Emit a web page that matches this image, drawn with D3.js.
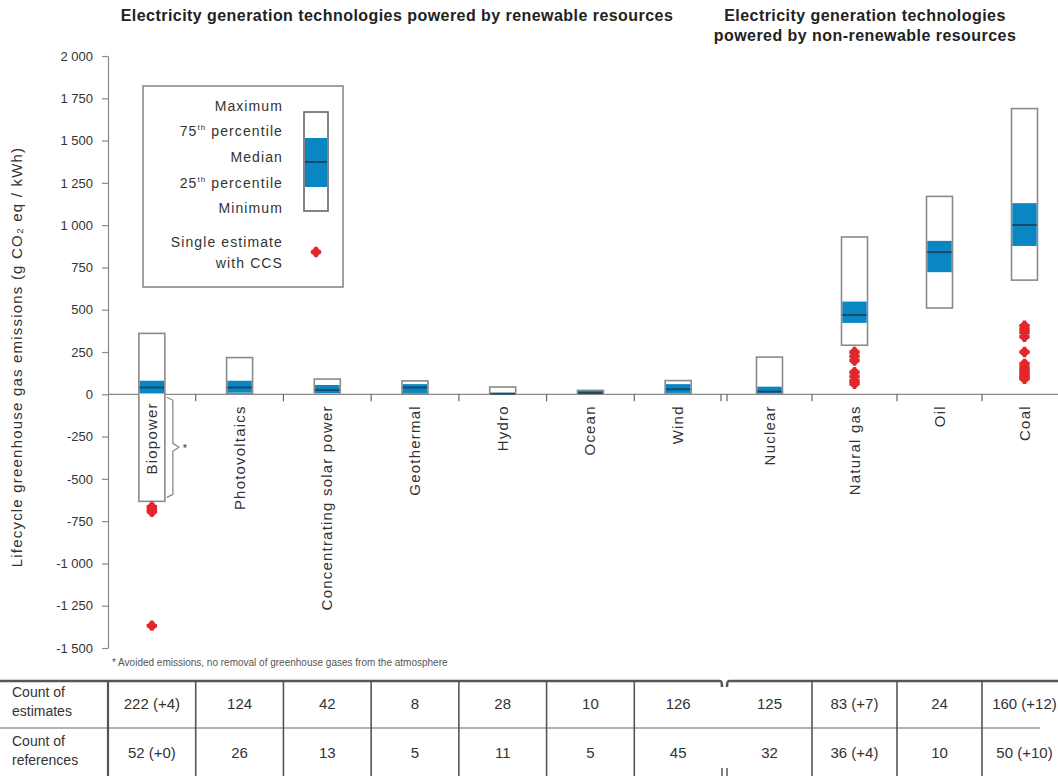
<!DOCTYPE html>
<html>
<head>
<meta charset="utf-8">
<script src="https://cdn.jsdelivr.net/npm/d3@7"></script>
<style>
  html, body { margin: 0; padding: 0; background: #fff; }
  svg { display: block; font-family: "Liberation Sans", Arial, sans-serif; }
</style>
</head>
<body>
<svg id="chart" width="1058" height="776"></svg>
<script>
// ---------------- DATA ----------------
const renewables = ["Biopower", "Photovoltaics", "Concentrating solar power", "Geothermal", "Hydro", "Ocean", "Wind"];
const nonRenewables = ["Nuclear", "Natural gas", "Oil", "Coal"];
const categories = renewables.concat(nonRenewables);

const minValues    = [-633,   5,   9,   6,  0,  2,  2,   1,  290,  510,  675];
const q1Values     = [   5,  10,   8,   8,  2,  6,  8,   6,  422,  722,  877];
const medianValues = [  40,  40,  25,  40,  4,  8, 30,  16,  469,  840, 1001];
const q3Values     = [  80,  80,  55,  60,  7, 20, 60,  45,  548,  907, 1130];
const maxValues    = [ 360, 217,  90,  79, 43, 23, 81, 220,  930, 1170, 1689];

const ccsBiopower  = [-665, -680, -695, -1368];
const ccsNaturalGas = [250, 225, 200, 130, 105, 80, 62];
const ccsCoal      = [405, 385, 365, 340, 250, 180, 160, 145, 130, 115, 100, 92];

const estimateCounts  = ["222 (+4)", "124", "42", "8", "28", "10", "126", "125", "83 (+7)", "24", "160 (+12)"];
const referenceCounts = ["52 (+0)", "26", "13", "5", "11", "5", "45", "32", "36 (+4)", "10", "50 (+10)"];

const yTicks = [2000, 1750, 1500, 1250, 1000, 750, 500, 250, 0, -250, -500, -750, -1000, -1250, -1500];

const titleRenewable = "Electricity generation technologies powered by renewable resources";
const titleNonRenewable = ["Electricity generation technologies", "powered by non-renewable resources"];
const yLabel = "Lifecycle greenhouse gas emissions (g CO₂ eq / kWh)";
const footnote = "* Avoided emissions, no removal of greenhouse gases from the atmosphere";

// ---------------- SETUP ----------------
const svg = d3.select("#chart");
const BLUE = "#0a87c2", DARK = "#174a68", GRAY = "#8a8a8a", RED = "#e3262c", TEXT = "#333";

const y = d3.scaleLinear().domain([-1500, 2000]).range([648, 56]);
const xRen = d3.scaleBand().domain(renewables).range([108, 722]);
const xNon = d3.scaleBand().domain(nonRenewables).range([727, 1067]);
const xBand = c => renewables.includes(c) ? xRen : xNon;
const xCenter = c => xBand(c)(c) + xBand(c).bandwidth() / 2;
const boxW = 26;

const rows = categories.map((c, i) => ({
  cat: c, min: minValues[i], q1: q1Values[i], med: medianValues[i], q3: q3Values[i], max: maxValues[i]
}));

// ---------------- TITLES ----------------
svg.append("text").attr("x", 397).attr("y", 21).attr("text-anchor", "middle")
  .attr("font-size", 16).attr("font-weight", "bold").attr("letter-spacing", 0.45).attr("fill", "#222")
  .text(titleRenewable);
svg.selectAll(".t2").data(titleNonRenewable).join("text")
  .attr("x", 865).attr("y", (d, i) => 21 + i * 20).attr("text-anchor", "middle")
  .attr("font-size", 16).attr("font-weight", "bold").attr("letter-spacing", 0.45).attr("fill", "#222")
  .text(d => d);

// ---------------- Y AXIS ----------------
const fmt = d3.formatLocale({ decimal: ".", thousands: " ", grouping: [3], currency: ["", ""], minus: "-" }).format(",");
const yAxis = svg.append("g").attr("transform", "translate(108,0)")
  .call(d3.axisLeft(y).tickValues(yTicks).tickFormat(fmt).tickSize(6).tickSizeOuter(0).tickPadding(9));
yAxis.select(".domain").attr("stroke", GRAY).attr("stroke-width", 1.2);
yAxis.selectAll(".tick line").attr("stroke", GRAY).attr("stroke-width", 1.2);
yAxis.selectAll(".tick text").attr("font-size", 13).attr("fill", TEXT)
  .attr("font-family", "Liberation Sans, Arial, sans-serif");

svg.append("text").attr("transform", "translate(22,357) rotate(-90)").attr("text-anchor", "middle")
  .attr("font-size", 15).attr("letter-spacing", 1.2).attr("fill", TEXT).text(yLabel);

// ---------------- ZERO LINE + TICKS ----------------
svg.append("line").attr("x1", 108).attr("x2", 1058).attr("y1", y(0)).attr("y2", y(0))
  .attr("stroke", GRAY).attr("stroke-width", 1.2);
const sepTicks = renewables.slice(1).map(c => xRen(c))
  .concat([721, 727])
  .concat(nonRenewables.slice(1).map(c => xNon(c)));
svg.selectAll(".sep").data(sepTicks).join("line")
  .attr("x1", d => d).attr("x2", d => d).attr("y1", y(0)).attr("y2", y(0) + 7)
  .attr("stroke", "#666").attr("stroke-width", 1.2);

// ---------------- BOXES ----------------
const g = svg.append("g");
const boxes = g.selectAll(".box").data(rows).join("g");
boxes.append("rect")
  .attr("x", d => xCenter(d.cat) - boxW / 2).attr("width", boxW)
  .attr("y", d => y(d.max)).attr("height", d => y(d.min) - y(d.max))
  .attr("fill", "#fff").attr("stroke", GRAY).attr("stroke-width", 1.6);
boxes.append("rect")
  .attr("x", d => xCenter(d.cat) - boxW / 2 + 0.8).attr("width", boxW - 1.6)
  .attr("y", d => y(d.q3)).attr("height", d => y(d.q1) - y(d.q3))
  .attr("fill", BLUE);
boxes.append("line")
  .attr("x1", d => xCenter(d.cat) - boxW / 2 + 0.8).attr("x2", d => xCenter(d.cat) + boxW / 2 - 0.8)
  .attr("y1", d => y(d.med)).attr("y2", d => y(d.med))
  .attr("stroke", DARK).attr("stroke-width", 2);

// Biopower bracket and asterisk
const bx = xCenter("Biopower") + boxW / 2 + 2;
const bTop = y(0) + 3, bBot = y(minValues[0]) - 4, bMid = (bTop + bBot) / 2;
svg.append("path")
  .attr("d", `M${bx},${bTop} L${bx + 6},${bTop + 3} L${bx + 6},${bMid - 4} L${bx + 12},${bMid} L${bx + 6},${bMid + 4} L${bx + 6},${bBot - 3} L${bx},${bBot}`)
  .attr("fill", "none").attr("stroke", GRAY).attr("stroke-width", 1.3);
svg.append("text").attr("x", bx + 16).attr("y", bMid + 5).attr("font-size", 11).attr("fill", TEXT).text("*");

// ---------------- CATEGORY LABELS ----------------
svg.selectAll(".catlabel").data(categories).join("text")
  .attr("transform", d => `translate(${xCenter(d) + 5},${y(0) + (d === "Biopower" ? 8 : 11)}) rotate(-90)`)
  .attr("text-anchor", "end").attr("font-size", 15).attr("letter-spacing", 1.2).attr("fill", TEXT)
  .text(d => d);

// ---------------- CCS ESTIMATES ----------------
const ccsPoints = []
  .concat(ccsBiopower.map(v => ({ cat: "Biopower", v })))
  .concat(ccsNaturalGas.map(v => ({ cat: "Natural gas", v })))
  .concat(ccsCoal.map(v => ({ cat: "Coal", v })));
const marker = d3.symbol().type(d3.symbolCross).size(60);
const drawMark = (sel) => {
  sel.append("circle").attr("r", 4.3).attr("fill", RED);
  sel.append("path").attr("d", marker).attr("fill", RED);
};
svg.selectAll(".ccs").data(ccsPoints).join("g")
  .attr("transform", d => `translate(${xCenter(d.cat)},${y(d.v)})`)
  .call(drawMark);

// ---------------- LEGEND ----------------
const lg = svg.append("g");
lg.append("rect").attr("x", 143).attr("y", 86).attr("width", 200).attr("height", 201)
  .attr("fill", "#fff").attr("stroke", GRAY).attr("stroke-width", 1.6);
lg.append("rect").attr("x", 304).attr("y", 112).attr("width", 24).attr("height", 99)
  .attr("fill", "#fff").attr("stroke", "#666").attr("stroke-width", 1.6);
lg.append("rect").attr("x", 305).attr("y", 138).attr("width", 22).attr("height", 49).attr("fill", BLUE);
lg.append("line").attr("x1", 305).attr("x2", 327).attr("y1", 162).attr("y2", 162).attr("stroke", DARK).attr("stroke-width", 2);
const legendLines = [
  { y: 111, parts: [["Maximum"]] },
  { y: 136, parts: [["75"], ["th", true], [" percentile"]] },
  { y: 162, parts: [["Median"]] },
  { y: 188, parts: [["25"], ["th", true], [" percentile"]] },
  { y: 213, parts: [["Minimum"]] },
  { y: 247, parts: [["Single estimate"]] },
  { y: 268, parts: [["with CCS"]] }
];
legendLines.forEach(l => {
  const t = lg.append("text").attr("x", 283).attr("y", l.y).attr("text-anchor", "end")
    .attr("font-size", 14).attr("letter-spacing", 1.1).attr("fill", TEXT);
  l.parts.forEach(p => {
    const ts = t.append("tspan").text(p[0]);
    if (p[1]) ts.attr("font-size", 8).attr("dy", -6);
    else if (p[0].startsWith(" ")) ts.attr("dy", 6);
  });
});
lg.append("g").attr("transform", "translate(316,252)").call(drawMark);

// ---------------- FOOTNOTE ----------------
svg.append("text").attr("x", 112).attr("y", 666).attr("font-size", 10).attr("fill", "#555").text(footnote);

// ---------------- TABLE ----------------
const tTop = 681, tMid = 728, tBot = 776;
const tg = svg.append("g");
tg.append("path").attr("d", `M0,${tTop} L720,${tTop} Q722,${tTop} 722,${tTop + 6}`)
  .attr("fill", "none").attr("stroke", "#555").attr("stroke-width", 2.6);
tg.append("path").attr("d", `M727,${tTop + 6} Q727,${tTop} 729,${tTop} L1058,${tTop}`)
  .attr("fill", "none").attr("stroke", "#555").attr("stroke-width", 2.6);
tg.append("line").attr("x1", 0).attr("x2", 1040).attr("y1", tMid).attr("y2", tMid)
  .attr("stroke", "#666").attr("stroke-width", 1.2);
tg.append("line").attr("x1", 722).attr("x2", 722).attr("y1", tBot - 8).attr("y2", tBot).attr("stroke", "#555").attr("stroke-width", 1.5);
tg.append("line").attr("x1", 727).attr("x2", 727).attr("y1", tBot - 8).attr("y2", tBot).attr("stroke", "#555").attr("stroke-width", 1.5);
const colLines = [108].concat(renewables.slice(1).map(c => xRen(c))).concat(nonRenewables.slice(1).map(c => xNon(c)));
tg.selectAll(".vl").data(colLines).join("line")
  .attr("x1", d => d).attr("x2", d => d).attr("y1", tTop).attr("y2", tBot)
  .attr("stroke", "#555").attr("stroke-width", (d, i) => i === 0 ? 2.2 : 1.6);
const rowLabels = [["Count of", "estimates"], ["Count of", "references"]];
rowLabels.forEach((lines, r) => {
  lines.forEach((s, k) => {
    tg.append("text").attr("x", 12).attr("y", (r === 0 ? 697 : 746) + k * 19)
      .attr("font-size", 14).attr("fill", TEXT).text(s);
  });
});
tg.selectAll(".est").data(categories).join("text")
  .attr("x", d => xCenter(d)).attr("y", 709).attr("text-anchor", "middle")
  .attr("font-size", 15).attr("fill", TEXT).text((d, i) => estimateCounts[i]);
tg.selectAll(".ref").data(categories).join("text")
  .attr("x", d => xCenter(d)).attr("y", 758).attr("text-anchor", "middle")
  .attr("font-size", 15).attr("fill", TEXT).text((d, i) => referenceCounts[i]);
</script>
</body>
</html>
